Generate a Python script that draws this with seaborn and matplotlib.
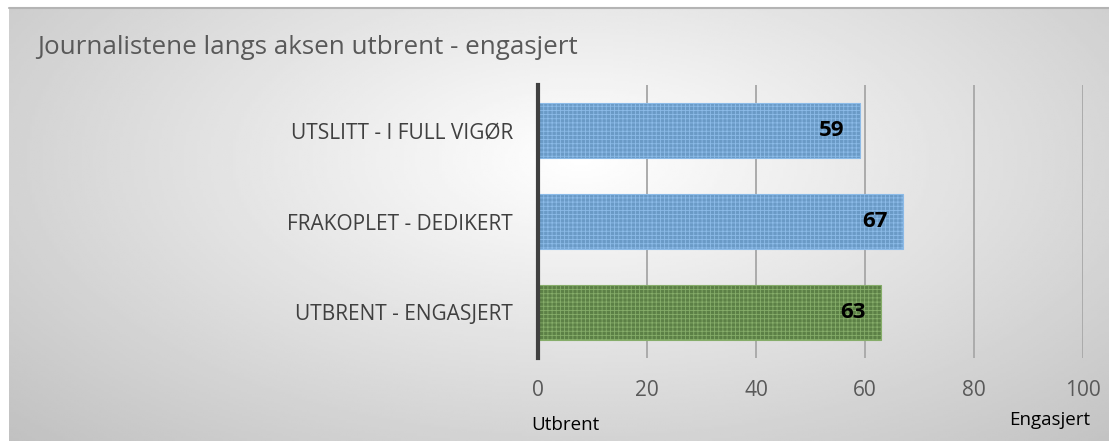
import numpy as np
import matplotlib
matplotlib.use("Agg")
import matplotlib.pyplot as plt
import seaborn as sns

# data
categories = ["UTSLITT - I FULL VIGØR", "FRAKOPLET - DEDIKERT", "UTBRENT - ENGASJERT"]
values = [59, 67, 63]
bar_colors = ["#5b9bd5", "#5b9bd5", "#5a8a3c"]
hatch_colors = ["#8cbbe8", "#8cbbe8", "#86ad6a"]
x_ticks = [0, 20, 40, 60, 80, 100]
title = "Journalistene langs aksen utbrent - engasjert"
left_note = "Utbrent"
right_note = "Engasjert"

sns.set_theme(style="white")
plt.rcParams["font.family"] = ["Open Sans", "DejaVu Sans"]
plt.rcParams["hatch.linewidth"] = 0.6

W, H = 1109, 441
fig = plt.figure(figsize=(W / 100, H / 100), dpi=100)
fig.patch.set_facecolor("white")

# radial grey background like the office chart area
bg = fig.add_axes([9 / W, 0, 1 - 9 / W, (H - 8) / H])
gx, gy = np.meshgrid(np.linspace(0, 1, 400), np.linspace(0, 1, 200))
r = np.sqrt(((gx - 0.52) / 0.75) ** 2 + ((gy - 0.35) / 0.95) ** 2)
shade = 1.0 - 0.25 * np.clip(r, 0, 1)
bg.imshow(shade, cmap="gray", vmin=0, vmax=1, aspect="auto", extent=[0, 1, 1, 0])
bg.set_axis_off()
fig.add_artist(plt.Line2D([9 / W, 1], [(H - 8) / H, (H - 8) / H], color="#b4b4b4", lw=1.5))

ax = fig.add_axes([538 / W, (H - 358) / H, 545 / W, 273 / H])
ax.set_facecolor("none")
sns.barplot(x=values, y=categories, hue=categories, palette=bar_colors, legend=False,
            orient="h", width=0.6, ax=ax, zorder=3)
for p, hc in zip(ax.patches, hatch_colors):
    p.set_hatch("++++")
    p.set_edgecolor(hc)
    p.set_linewidth(0.8)

for i, v in enumerate(values):
    ax.text(v - 2.8, i, str(v), ha="right", va="center", fontsize=16,
            fontweight="bold", color="black", zorder=5)

ax.set_xlim(0, 100)
ax.set_ylim(2.5, -0.5)
ax.set_xticks(x_ticks)
ax.set_xticklabels([str(t) for t in x_ticks])
for t in x_ticks[1:]:
    ax.axvline(t, color="#ababab", lw=1.4, zorder=1)

for s in ["top", "right", "bottom"]:
    ax.spines[s].set_visible(False)
ax.spines["left"].set_color("#404040")
ax.spines["left"].set_linewidth(3)
ax.spines["left"].set_zorder(6)

ax.tick_params(axis="x", length=0, pad=16, labelsize=15, labelcolor="#595959")
ax.tick_params(axis="y", length=0, pad=18, labelsize=15, labelcolor="#404040")
ax.set_xlabel("")
ax.set_ylabel("")

fig.text(37 / W, 1 - 47 / H, title, fontsize=18.7, color="#595959", va="center", ha="left")
fig.text(531 / W, 1 - 425 / H, left_note, fontsize=13.5, color="black", va="center", ha="left")
fig.text(1090 / W, 1 - 420 / H, right_note, fontsize=13.5, color="black", va="center", ha="right")

fig.savefig("out.png", dpi=100, facecolor=fig.get_facecolor())
